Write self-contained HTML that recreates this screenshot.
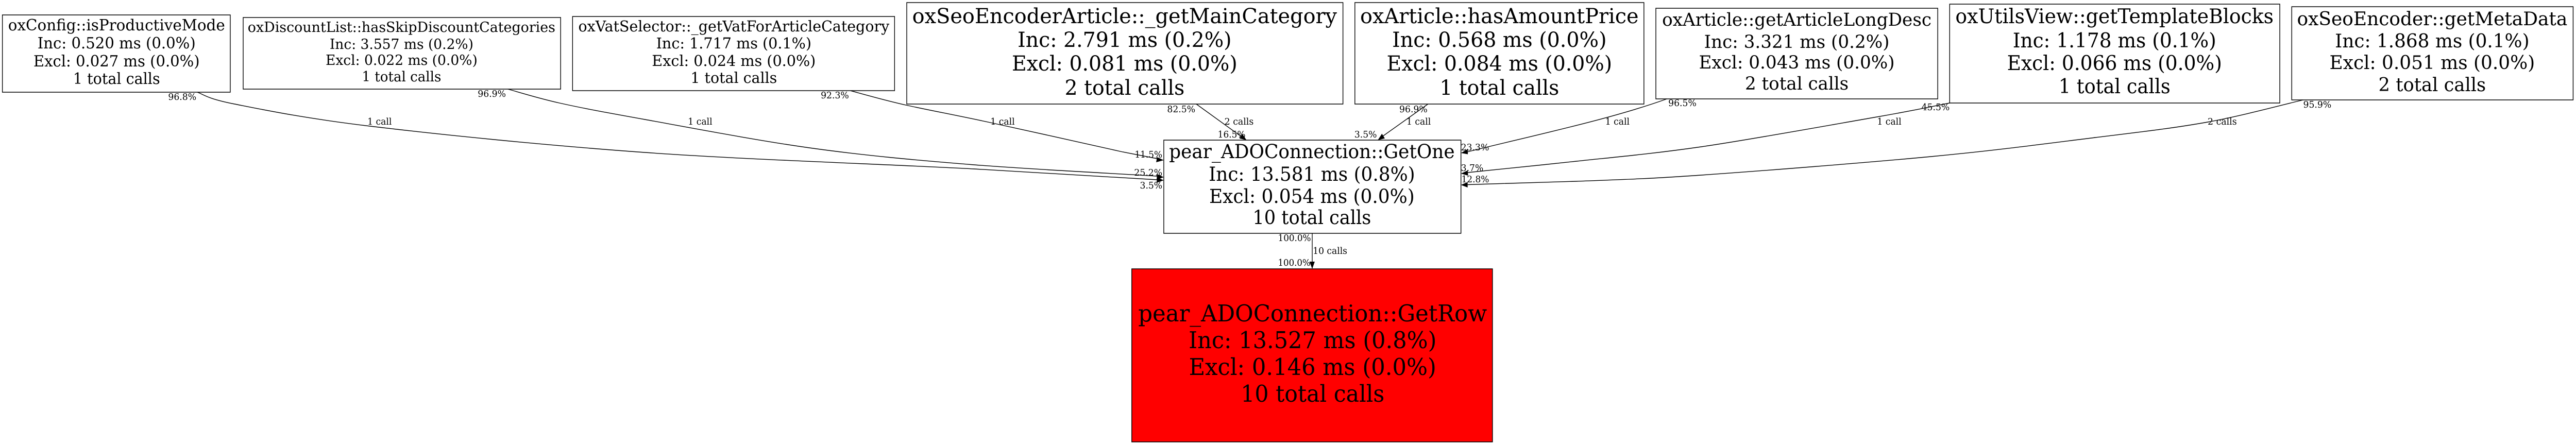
<!DOCTYPE html>
<html><head><meta charset="utf-8"><title>Call graph</title>
<style>
html,body{margin:0;padding:0;background:#fff;width:100%;height:100%;overflow:hidden}
svg{display:block;width:100vw;height:100vh}
text{font-family:"DejaVu Serif",serif;fill:#000}
.m{text-anchor:middle}
.l{font-size:18px}
.r{fill:#fff;stroke:#000;stroke-width:1.5}
.e{fill:none;stroke:#000;stroke-width:1.4}
</style></head><body>
<svg xmlns="http://www.w3.org/2000/svg" viewBox="0 0 5392 864" preserveAspectRatio="none">
<rect width="5392" height="864" fill="#fff"/>
<!-- edges -->
<path class="e" d="M413,179 C426,183 431,191 491,202 C551,213 632,229 775,245 C918,261 1139,282 1350,296 C1561,310 1860,319 2039,328 C2218,337 2358,345.5 2422,349"/>
<path class="e" d="M1063,173 C1081,177.5 1123,190 1171,200 C1219,210 1263,217.5 1350,232 C1437,246.5 1579,272 1694,287 C1809,302 1918,311 2039,320 C2160,329 2358,338 2422,342"/>
<path class="e" d="M1780,176 C1800,181 1852,195 1901,205 C1950,215 1998,223 2073,238 C2148,253 2292,283 2350,295 L2422,308"/>
<path class="e" d="M2504,202 L2598,265"/>
<path class="e" d="M2989,202 L2895,264"/>
<path class="e" d="M3489,192 C3370,232 3200,265 3071,295"/>
<path class="e" d="M4081,200 C4055,204.5 4016,213 3929,227 C3842,241 3666,270.7 3561,285 C3456,299 3381,305 3300,313 C3219,321 3110,332 3072,335"/>
<path class="e" d="M4821,194 C4788,201 4693,225 4621,237 C4549,249 4482,256 4386,267 C4290,278 4179,292 4042,304 C3905,316 3685,332 3561,340 C3437,348 3381.5,349 3300,352 C3219,354 3110,358 3072,358.5"/>
<path class="e" d="M2746.7,453 L2746.7,510"/>
<!-- arrowheads -->
<polygon points="2436,350 2422,344.5 2421,355"/>
<polygon points="2436,344 2422,338 2421,349"/>
<polygon points="2436,311 2422,305 2420,315"/>
<polygon points="2609,272 2594.4,268.8 2600.4,259.6"/>
<polygon points="2884,272 2898.7,268.8 2892.6,259.6"/>
<polygon points="3058,297 3072,289.5 3072.5,299.5"/>
<polygon points="3058,337 3072,331 3073,341"/>
<polygon points="3058,359 3072,353.5 3072,364"/>
<polygon points="2746.7,522 2741,508 2752,508"/>
<!-- nodes -->
<rect class="r" x="5" y="29" width="477" height="150"/>
<g font-size="30" class="m" lengthAdjust="spacingAndGlyphs">
<text x="244" y="59" class="m" textLength="454" lengthAdjust="spacingAndGlyphs">oxConfig::isProductiveMode</text>
<text x="244" y="94" class="m" textLength="331" lengthAdjust="spacingAndGlyphs">Inc: 0.520 ms (0.0%)</text>
<text x="244" y="129" class="m" textLength="348" lengthAdjust="spacingAndGlyphs">Excl: 0.027 ms (0.0%)</text>
<text x="244" y="163" class="m" textLength="182" lengthAdjust="spacingAndGlyphs">1 total calls</text></g>

<rect class="r" x="509" y="34" width="664.5" height="139"/>
<g font-size="27">
<text x="840.5" y="62" class="m" textLength="644" lengthAdjust="spacingAndGlyphs">oxDiscountList::hasSkipDiscountCategories</text>
<text x="840.5" y="95" class="m" textLength="301" lengthAdjust="spacingAndGlyphs">Inc: 3.557 ms (0.2%)</text>
<text x="840.5" y="126" class="m" textLength="318" lengthAdjust="spacingAndGlyphs">Excl: 0.022 ms (0.0%)</text>
<text x="840.5" y="158" class="m" textLength="166" lengthAdjust="spacingAndGlyphs">1 total calls</text></g>

<rect class="r" x="1198.5" y="32" width="674" height="144"/>
<g font-size="29">
<text x="1536" y="61" class="m" textLength="651" lengthAdjust="spacingAndGlyphs">oxVatSelector::_getVatForArticleCategory</text>
<text x="1536" y="94" class="m" textLength="325" lengthAdjust="spacingAndGlyphs">Inc: 1.717 ms (0.1%)</text>
<text x="1536" y="128" class="m" textLength="343" lengthAdjust="spacingAndGlyphs">Excl: 0.024 ms (0.0%)</text>
<text x="1536" y="161" class="m" textLength="181" lengthAdjust="spacingAndGlyphs">1 total calls</text></g>

<rect class="r" x="1898" y="5" width="913" height="197"/>
<g font-size="40">
<text x="2354" y="45" class="m" textLength="889" lengthAdjust="spacingAndGlyphs">oxSeoEncoderArticle::_getMainCategory</text>
<text x="2354" y="91" class="m" textLength="448" lengthAdjust="spacingAndGlyphs">Inc: 2.791 ms (0.2%)</text>
<text x="2354" y="137" class="m" textLength="472" lengthAdjust="spacingAndGlyphs">Excl: 0.081 ms (0.0%)</text>
<text x="2354" y="184" class="m" textLength="251" lengthAdjust="spacingAndGlyphs">2 total calls</text></g>

<rect class="r" x="2836" y="5" width="605" height="197"/>
<g font-size="40">
<text x="3138.5" y="45" class="m" textLength="583" lengthAdjust="spacingAndGlyphs">oxArticle::hasAmountPrice</text>
<text x="3138.5" y="91" class="m" textLength="449" lengthAdjust="spacingAndGlyphs">Inc: 0.568 ms (0.0%)</text>
<text x="3138.5" y="137" class="m" textLength="472" lengthAdjust="spacingAndGlyphs">Excl: 0.084 ms (0.0%)</text>
<text x="3138.5" y="184" class="m" textLength="250" lengthAdjust="spacingAndGlyphs">1 total calls</text></g>

<rect class="r" x="3466" y="16" width="590" height="176"/>
<g font-size="35">
<text x="3761" y="50" class="m" textLength="564" lengthAdjust="spacingAndGlyphs">oxArticle::getArticleLongDesc</text>
<text x="3761" y="93" class="m" textLength="388" lengthAdjust="spacingAndGlyphs">Inc: 3.321 ms (0.2%)</text>
<text x="3761" y="133" class="m" textLength="410" lengthAdjust="spacingAndGlyphs">Excl: 0.043 ms (0.0%)</text>
<text x="3761" y="174" class="m" textLength="217" lengthAdjust="spacingAndGlyphs">2 total calls</text></g>

<rect class="r" x="4081" y="8" width="691" height="192"/>
<g font-size="39">
<text x="4426" y="45" class="m" textLength="666" lengthAdjust="spacingAndGlyphs">oxUtilsView::getTemplateBlocks</text>
<text x="4426" y="92" class="m" textLength="426" lengthAdjust="spacingAndGlyphs">Inc: 1.178 ms (0.1%)</text>
<text x="4426" y="136" class="m" textLength="450" lengthAdjust="spacingAndGlyphs">Excl: 0.066 ms (0.0%)</text>
<text x="4426" y="181" class="m" textLength="234" lengthAdjust="spacingAndGlyphs">1 total calls</text></g>

<rect class="r" x="4797" y="13" width="589" height="181"/>
<g font-size="36.5">
<text x="5091" y="49" class="m" textLength="566" lengthAdjust="spacingAndGlyphs">oxSeoEncoder::getMetaData</text>
<text x="5091" y="92" class="m" textLength="407" lengthAdjust="spacingAndGlyphs">Inc: 1.868 ms (0.1%)</text>
<text x="5091" y="134" class="m" textLength="430" lengthAdjust="spacingAndGlyphs">Excl: 0.051 ms (0.0%)</text>
<text x="5091" y="177" class="m" textLength="225" lengthAdjust="spacingAndGlyphs">2 total calls</text></g>

<rect class="r" x="2436" y="272" width="622" height="181"/>
<g font-size="37">
<text x="2746" y="307" class="m" textLength="598" lengthAdjust="spacingAndGlyphs">pear_ADOConnection::GetOne</text>
<text x="2746" y="351" class="m" textLength="432" lengthAdjust="spacingAndGlyphs">Inc: 13.581 ms (0.8%)</text>
<text x="2746" y="394" class="m" textLength="430" lengthAdjust="spacingAndGlyphs">Excl: 0.054 ms (0.0%)</text>
<text x="2746" y="435" class="m" textLength="248" lengthAdjust="spacingAndGlyphs">10 total calls</text></g>

<rect x="2369" y="522" width="755" height="336" fill="#f00" stroke="#000" stroke-width="1.5"/>
<g font-size="44.6">
<text x="2747.5" y="624" class="m" textLength="730" lengthAdjust="spacingAndGlyphs">pear_ADOConnection::GetRow</text>
<text x="2747.5" y="676" class="m" textLength="519" lengthAdjust="spacingAndGlyphs">Inc: 13.527 ms (0.8%)</text>
<text x="2747.5" y="728" class="m" textLength="518" lengthAdjust="spacingAndGlyphs">Excl: 0.146 ms (0.0%)</text>
<text x="2747.5" y="780" class="m" textLength="301" lengthAdjust="spacingAndGlyphs">10 total calls</text></g>
<!-- labels -->
<g class="l">
<text x="352" y="194" textLength="59" lengthAdjust="spacingAndGlyphs">96.8%</text>
<text x="769" y="242" textLength="51" lengthAdjust="spacingAndGlyphs">1 call</text>
<text x="1000" y="188" textLength="59" lengthAdjust="spacingAndGlyphs">96.9%</text>
<text x="1440" y="242" textLength="51" lengthAdjust="spacingAndGlyphs">1 call</text>
<text x="1718" y="191" textLength="59" lengthAdjust="spacingAndGlyphs">92.3%</text>
<text x="2073" y="242" textLength="51" lengthAdjust="spacingAndGlyphs">1 call</text>
<text x="2443" y="218" textLength="59" lengthAdjust="spacingAndGlyphs">82.5%</text>
<text x="2563" y="242" textLength="61" lengthAdjust="spacingAndGlyphs">2 calls</text>
<text x="2549" y="267" textLength="58" lengthAdjust="spacingAndGlyphs">16.5%</text>
<text x="2375" y="306" textLength="58" lengthAdjust="spacingAndGlyphs">11.5%</text>
<text x="2374" y="341" textLength="59" lengthAdjust="spacingAndGlyphs">25.2%</text>
<text x="2386" y="366" textLength="47" lengthAdjust="spacingAndGlyphs">3.5%</text>
<text x="3058" y="292" textLength="59" lengthAdjust="spacingAndGlyphs">23.3%</text>
<text x="3058" y="332" textLength="47" lengthAdjust="spacingAndGlyphs">3.7%</text>
<text x="3059" y="354" textLength="58" lengthAdjust="spacingAndGlyphs">12.8%</text>
<text x="2929" y="218" textLength="59" lengthAdjust="spacingAndGlyphs">96.9%</text>
<text x="2944" y="242" textLength="51" lengthAdjust="spacingAndGlyphs">1 call</text>
<text x="2835" y="267" textLength="47" lengthAdjust="spacingAndGlyphs">3.5%</text>
<text x="3492" y="206" textLength="59" lengthAdjust="spacingAndGlyphs">96.5%</text>
<text x="3360" y="242" textLength="51" lengthAdjust="spacingAndGlyphs">1 call</text>
<text x="4022" y="214" textLength="59" lengthAdjust="spacingAndGlyphs">45.5%</text>
<text x="3929" y="242" textLength="51" lengthAdjust="spacingAndGlyphs">1 call</text>
<text x="4621" y="242" textLength="61" lengthAdjust="spacingAndGlyphs">2 calls</text>
<text x="4821" y="209" textLength="59" lengthAdjust="spacingAndGlyphs">95.9%</text>
<text x="2675" y="468" textLength="69" lengthAdjust="spacingAndGlyphs">100.0%</text>
<text x="2675" y="516" textLength="68" lengthAdjust="spacingAndGlyphs">100.0%</text>
<text x="2748" y="493" textLength="72" lengthAdjust="spacingAndGlyphs">10 calls</text>
</g>
</svg>
</body></html>
